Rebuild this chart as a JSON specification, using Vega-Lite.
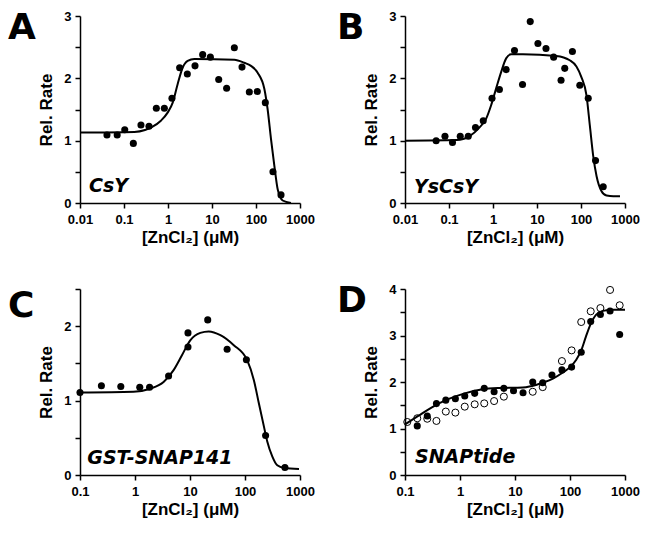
{
  "$schema": "https://vega.github.io/schema/vega-lite/v6.json",
  "background": "white",
  "padding": {"left": 8, "top": 10, "right": 5, "bottom": 5},
  "datasets": {
    "ptsA": [
      {"x": 0.041, "y": 1.09}, {"x": 0.070, "y": 1.09}, {"x": 0.104, "y": 1.175}, {"x": 0.163, "y": 0.956},
      {"x": 0.243, "y": 1.25}, {"x": 0.37, "y": 1.23}, {"x": 0.543, "y": 1.52}, {"x": 0.826, "y": 1.52},
      {"x": 1.23, "y": 1.68}, {"x": 1.84, "y": 2.17}, {"x": 2.75, "y": 2.07}, {"x": 4.11, "y": 2.2},
      {"x": 6.14, "y": 2.38}, {"x": 9.17, "y": 2.34}, {"x": 14.2, "y": 1.98}, {"x": 21.5, "y": 1.84},
      {"x": 32.2, "y": 2.49}, {"x": 48.1, "y": 2.18}, {"x": 70.5, "y": 1.78}, {"x": 107, "y": 1.79},
      {"x": 163, "y": 1.61}, {"x": 243, "y": 0.5}, {"x": 370, "y": 0.13}
    ],
    "curveA": [
      {"x": 0.01, "y": 1.13}, {"x": 0.172, "y": 1.14}, {"x": 0.3, "y": 1.17}, {"x": 0.41, "y": 1.21},
      {"x": 0.69, "y": 1.32}, {"x": 0.98, "y": 1.45}, {"x": 1.28, "y": 1.61}, {"x": 1.66, "y": 1.91},
      {"x": 2.15, "y": 2.17}, {"x": 2.8, "y": 2.28}, {"x": 3.97, "y": 2.31}, {"x": 32.2, "y": 2.3},
      {"x": 54.3, "y": 2.25}, {"x": 76.9, "y": 2.2}, {"x": 109, "y": 2.09}, {"x": 155, "y": 1.83},
      {"x": 184, "y": 1.5}, {"x": 219, "y": 1.03}, {"x": 261, "y": 0.6}, {"x": 311, "y": 0.22},
      {"x": 404, "y": 0.04}, {"x": 624, "y": 0.0}
    ],
    "ptsB": [
      {"x": 0.051, "y": 1.0}, {"x": 0.081, "y": 1.07}, {"x": 0.12, "y": 0.97}, {"x": 0.18, "y": 1.07},
      {"x": 0.274, "y": 1.07}, {"x": 0.40, "y": 1.21}, {"x": 0.60, "y": 1.32}, {"x": 0.95, "y": 1.68},
      {"x": 1.40, "y": 1.82}, {"x": 1.99, "y": 2.14}, {"x": 3.08, "y": 2.445}, {"x": 4.69, "y": 1.9},
      {"x": 7.02, "y": 2.91}, {"x": 10.5, "y": 2.56}, {"x": 16, "y": 2.48}, {"x": 23.9, "y": 2.34},
      {"x": 35.2, "y": 1.97}, {"x": 42.7, "y": 2.16}, {"x": 63.8, "y": 2.43}, {"x": 94, "y": 1.89},
      {"x": 146, "y": 1.68}, {"x": 214, "y": 0.68}, {"x": 320, "y": 0.26}
    ],
    "curveB": [
      {"x": 0.01, "y": 1.0}, {"x": 0.15, "y": 1.01}, {"x": 0.289, "y": 1.07}, {"x": 0.489, "y": 1.21},
      {"x": 0.695, "y": 1.35}, {"x": 0.903, "y": 1.565}, {"x": 1.175, "y": 1.835}, {"x": 1.53, "y": 2.1},
      {"x": 1.99, "y": 2.32}, {"x": 2.58, "y": 2.385}, {"x": 4.77, "y": 2.385}, {"x": 27.5, "y": 2.36},
      {"x": 55.5, "y": 2.29}, {"x": 78.7, "y": 2.19}, {"x": 102, "y": 2.02}, {"x": 133, "y": 1.73},
      {"x": 159, "y": 1.24}, {"x": 189, "y": 0.76}, {"x": 226, "y": 0.43}, {"x": 293, "y": 0.19},
      {"x": 381, "y": 0.12}, {"x": 542, "y": 0.11}, {"x": 769, "y": 0.11}
    ],
    "ptsC": [
      {"x": 0.1, "y": 1.11}, {"x": 0.245, "y": 1.2}, {"x": 0.552, "y": 1.19}, {"x": 1.22, "y": 1.18},
      {"x": 1.84, "y": 1.18}, {"x": 4.08, "y": 1.33}, {"x": 9.19, "y": 1.91}, {"x": 9.19, "y": 1.72},
      {"x": 21, "y": 2.085}, {"x": 47.3, "y": 1.69}, {"x": 106, "y": 1.55}, {"x": 237, "y": 0.53},
      {"x": 532, "y": 0.1}
    ],
    "curveC": [
      {"x": 0.1, "y": 1.11}, {"x": 0.94, "y": 1.12}, {"x": 1.89, "y": 1.16}, {"x": 3.31, "y": 1.25},
      {"x": 5.03, "y": 1.41}, {"x": 7.14, "y": 1.61}, {"x": 10.1, "y": 1.81}, {"x": 15.4, "y": 1.91},
      {"x": 21.9, "y": 1.93}, {"x": 35.7, "y": 1.88}, {"x": 62.5, "y": 1.745}, {"x": 110, "y": 1.54},
      {"x": 145, "y": 1.275}, {"x": 179, "y": 0.96}, {"x": 221, "y": 0.65}, {"x": 254, "y": 0.45},
      {"x": 313, "y": 0.25}, {"x": 386, "y": 0.13}, {"x": 511, "y": 0.094}, {"x": 959, "y": 0.08}
    ],
    "ptsD": [
      {"x": 0.167, "y": 1.056, "s": "filled"}, {"x": 0.254, "y": 1.27, "s": "filled"}, {"x": 0.373, "y": 1.535, "s": "filled"},
      {"x": 0.552, "y": 1.61, "s": "filled"}, {"x": 0.824, "y": 1.64, "s": "filled"}, {"x": 1.22, "y": 1.7, "s": "filled"},
      {"x": 1.85, "y": 1.756, "s": "filled"}, {"x": 2.76, "y": 1.863, "s": "filled"}, {"x": 4.17, "y": 1.79, "s": "filled"},
      {"x": 6.27, "y": 1.863, "s": "filled"}, {"x": 9.4, "y": 1.81, "s": "filled"}, {"x": 14.0, "y": 1.77, "s": "filled"},
      {"x": 21, "y": 2.0, "s": "filled"}, {"x": 31.9, "y": 1.985, "s": "filled"}, {"x": 47, "y": 2.15, "s": "filled"},
      {"x": 71.3, "y": 2.26, "s": "filled"}, {"x": 107, "y": 2.32, "s": "filled"}, {"x": 160, "y": 2.64, "s": "filled"},
      {"x": 238, "y": 3.3, "s": "filled"}, {"x": 357, "y": 3.45, "s": "filled"}, {"x": 535, "y": 3.527, "s": "filled"},
      {"x": 800, "y": 3.02, "s": "filled"},
      {"x": 0.11, "y": 1.14, "s": "open"}, {"x": 0.167, "y": 1.22, "s": "open"}, {"x": 0.254, "y": 1.21, "s": "open"},
      {"x": 0.373, "y": 1.163, "s": "open"}, {"x": 0.552, "y": 1.364, "s": "open"}, {"x": 0.824, "y": 1.342, "s": "open"},
      {"x": 1.22, "y": 1.47, "s": "open"}, {"x": 1.85, "y": 1.52, "s": "open"}, {"x": 2.76, "y": 1.54, "s": "open"},
      {"x": 4.17, "y": 1.59, "s": "open"}, {"x": 6.27, "y": 1.685, "s": "open"}, {"x": 21, "y": 1.79, "s": "open"},
      {"x": 31.9, "y": 1.89, "s": "open"}, {"x": 71.3, "y": 2.45, "s": "open"}, {"x": 107, "y": 2.68, "s": "open"},
      {"x": 160, "y": 3.29, "s": "open"}, {"x": 238, "y": 3.52, "s": "open"}, {"x": 357, "y": 3.59, "s": "open"},
      {"x": 535, "y": 3.98, "s": "open"}, {"x": 800, "y": 3.65, "s": "open"}
    ],
    "curveD": [
      {"x": 0.1, "y": 1.09}, {"x": 0.174, "y": 1.27}, {"x": 0.303, "y": 1.45}, {"x": 0.608, "y": 1.63},
      {"x": 1.22, "y": 1.756}, {"x": 2.43, "y": 1.84}, {"x": 4.88, "y": 1.87}, {"x": 13.8, "y": 1.88},
      {"x": 19.6, "y": 1.91}, {"x": 31.8, "y": 1.985}, {"x": 50, "y": 2.08}, {"x": 73, "y": 2.2},
      {"x": 100, "y": 2.32}, {"x": 130, "y": 2.48}, {"x": 160, "y": 2.68}, {"x": 194, "y": 2.97},
      {"x": 238, "y": 3.25}, {"x": 300, "y": 3.45}, {"x": 400, "y": 3.53}, {"x": 600, "y": 3.555},
      {"x": 1000, "y": 3.555}
    ],
    "labels": [
      {"panel": "A", "label": "CsY", "x": 0.016, "y": 0.17},
      {"panel": "B", "label": "YsCsY", "x": 0.016, "y": 0.16},
      {"panel": "C", "label": "GST-SNAP141", "x": 0.136, "y": 0.15},
      {"panel": "D", "label": "SNAPtide", "x": 0.152, "y": 0.26}
    ]
  },
  "vconcat": [
    {
      "hconcat": [
        {
          "width": 220, "height": 187,
          "title": {"text": "A", "dx": -72, "dy": 41},
          "encoding": {
            "x": {"field": "x", "type": "quantitative", "scale": {"type": "log", "domain": [0.01, 1000], "nice": false},
                  "axis": {"values": [0.01, 0.1, 1, 10, 100, 1000], "format": "~g", "title": "[ZnCl₂] (μM)"}},
            "y": {"field": "y", "type": "quantitative", "scale": {"domain": [0, 3], "nice": false},
                  "axis": {"values": [0, 0.5, 1, 1.5, 2, 2.5, 3], "format": "~g", "labelExpr": "datum.value % 1 === 0 ? datum.label : ''", "title": "Rel. Rate"}}
          },
          "layer": [
            {"data": {"name": "curveA"}, "mark": {"type": "line", "color": "black", "strokeWidth": 2, "interpolate": "monotone"}},
            {"data": {"name": "ptsA"}, "mark": {"type": "circle", "color": "black", "size": 50, "opacity": 1}},
            {"data": {"name": "labels"}, "transform": [{"filter": "datum.panel === 'A'"}],
             "mark": {"type": "text", "font": "DejaVu Sans", "fontStyle": "italic", "fontWeight": "bold", "fontSize": 19, "align": "left", "baseline": "alphabetic", "color": "black"},
             "encoding": {"text": {"field": "label"}}}
          ]
        },
        {
          "width": 220, "height": 187,
          "title": {"text": "B", "dx": -68, "dy": 41},
          "encoding": {
            "x": {"field": "x", "type": "quantitative", "scale": {"type": "log", "domain": [0.01, 1000], "nice": false},
                  "axis": {"values": [0.01, 0.1, 1, 10, 100, 1000], "format": "~g", "title": "[ZnCl₂] (μM)"}},
            "y": {"field": "y", "type": "quantitative", "scale": {"domain": [0, 3], "nice": false},
                  "axis": {"values": [0, 0.5, 1, 1.5, 2, 2.5, 3], "format": "~g", "labelExpr": "datum.value % 1 === 0 ? datum.label : ''", "title": "Rel. Rate"}}
          },
          "layer": [
            {"data": {"name": "curveB"}, "mark": {"type": "line", "color": "black", "strokeWidth": 2, "interpolate": "monotone"}},
            {"data": {"name": "ptsB"}, "mark": {"type": "circle", "color": "black", "size": 50, "opacity": 1}},
            {"data": {"name": "labels"}, "transform": [{"filter": "datum.panel === 'B'"}],
             "mark": {"type": "text", "font": "DejaVu Sans", "fontStyle": "italic", "fontWeight": "bold", "fontSize": 19, "align": "left", "baseline": "alphabetic", "color": "black"},
             "encoding": {"text": {"field": "label"}}}
          ]
        }
      ]
    },
    {
      "hconcat": [
        {
          "width": 220, "height": 186,
          "title": {"text": "C", "dx": -72, "dy": 41},
          "encoding": {
            "x": {"field": "x", "type": "quantitative", "scale": {"type": "log", "domain": [0.1, 1000], "nice": false},
                  "axis": {"values": [0.1, 1, 10, 100, 1000], "format": "~g", "title": "[ZnCl₂] (μM)"}},
            "y": {"field": "y", "type": "quantitative", "scale": {"domain": [0, 2.5], "nice": false},
                  "axis": {"values": [0, 0.5, 1, 1.5, 2, 2.5], "format": "~g", "labelExpr": "datum.value % 1 === 0 ? datum.label : ''", "title": "Rel. Rate"}}
          },
          "layer": [
            {"data": {"name": "curveC"}, "mark": {"type": "line", "color": "black", "strokeWidth": 2, "interpolate": "monotone"}},
            {"data": {"name": "ptsC"}, "mark": {"type": "circle", "color": "black", "size": 50, "opacity": 1}},
            {"data": {"name": "labels"}, "transform": [{"filter": "datum.panel === 'C'"}],
             "mark": {"type": "text", "font": "DejaVu Sans", "fontStyle": "italic", "fontWeight": "bold", "fontSize": 19, "align": "left", "baseline": "alphabetic", "color": "black"},
             "encoding": {"text": {"field": "label"}}}
          ]
        },
        {
          "width": 220, "height": 186,
          "title": {"text": "D", "dx": -68, "dy": 41},
          "encoding": {
            "x": {"field": "x", "type": "quantitative", "scale": {"type": "log", "domain": [0.1, 1000], "nice": false},
                  "axis": {"values": [0.1, 1, 10, 100, 1000], "format": "~g", "title": "[ZnCl₂] (μM)"}},
            "y": {"field": "y", "type": "quantitative", "scale": {"domain": [0, 4], "nice": false},
                  "axis": {"values": [0, 0.5, 1, 1.5, 2, 2.5, 3, 3.5, 4], "format": "~g", "labelExpr": "datum.value % 1 === 0 ? datum.label : ''", "title": "Rel. Rate"}}
          },
          "layer": [
            {"data": {"name": "curveD"}, "mark": {"type": "line", "color": "black", "strokeWidth": 2, "interpolate": "monotone"}},
            {"data": {"name": "ptsD"}, "transform": [{"filter": "datum.s === 'open'"}], "mark": {"type": "point", "shape": "circle", "filled": false, "color": "black", "strokeWidth": 1, "size": 50, "opacity": 1}},
            {"data": {"name": "ptsD"}, "transform": [{"filter": "datum.s === 'filled'"}], "mark": {"type": "circle", "color": "black", "size": 50, "opacity": 1}},
            {"data": {"name": "labels"}, "transform": [{"filter": "datum.panel === 'D'"}],
             "mark": {"type": "text", "font": "DejaVu Sans", "fontStyle": "italic", "fontWeight": "bold", "fontSize": 19, "align": "left", "baseline": "alphabetic", "color": "black"},
             "encoding": {"text": {"field": "label"}}}
          ]
        }
      ]
    }
  ],
  "spacing": 38,
  "config": {
    "view": {"stroke": null},
    "concat": {"spacing": 22},
    "axis": {
      "grid": false,
      "domainColor": "black", "domainWidth": 1.5,
      "tickColor": "black", "tickWidth": 1.5, "tickSize": 5,
      "labelFont": "Liberation Sans", "labelFontWeight": "bold", "labelFontSize": 13, "labelColor": "black", "labelPadding": 4,
      "titleFont": "Liberation Sans", "titleFontWeight": "bold", "titleFontSize": 17, "titleColor": "black"
    },
    "axisX": {"labelPadding": 5, "titlePadding": 3, "labelFlush": false, "labelOverlap": false},
    "axisY": {"titlePadding": 8},
    "title": {"font": "DejaVu Sans", "fontSize": 36, "fontWeight": "bold", "anchor": "start", "frame": "group", "color": "black", "baseline": "alphabetic", "offset": 0}
  }
}
